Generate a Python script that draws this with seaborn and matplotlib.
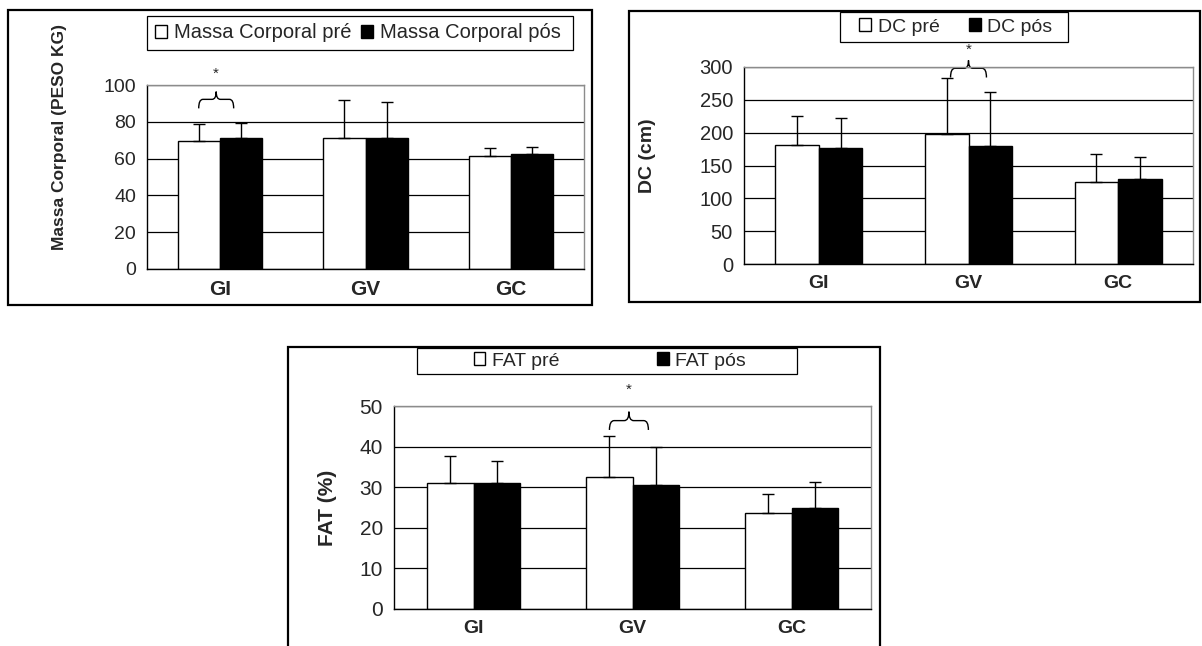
import matplotlib
matplotlib.use("Agg")
import matplotlib.pyplot as plt
import seaborn as sns
import pandas as pd
from matplotlib.patches import Rectangle, Patch, PathPatch
from matplotlib.path import Path

# ---------------- data ----------------
groups = ["GI", "GV", "GC"]
moments = ["pré", "pós"]

massa_pre = [69.3, 71.0, 61.4]
massa_pos = [71.0, 71.0, 62.3]
massa_pre_sd = [9.4, 20.8, 4.1]
massa_pos_sd = [8.6, 19.6, 4.1]

dc_pre = [181, 198.5, 125]
dc_pos = [176, 179, 130]
dc_pre_sd = [45, 85.5, 43]
dc_pos_sd = [46, 83, 33]

fat_pre = [31.0, 32.6, 23.6]
fat_pos = [31.0, 30.6, 25.0]
fat_pre_sd = [6.8, 9.9, 4.8]
fat_pos_sd = [5.5, 9.4, 6.3]

legend_massa = ["Massa Corporal pré", "Massa Corporal pós"]
legend_dc = ["DC pré", "DC pós"]
legend_fat = ["FAT pré", "FAT pós"]

# ---------------- figure ----------------
W, H = 1202, 646
sns.set_style("white")
plt.rcParams["font.family"] = ["Liberation Sans", "DejaVu Sans"]
fig = plt.figure(figsize=(W / 100, H / 100), dpi=100)


def fig_rect(x0, y0, x1, y1):
    return (x0 / W, 1 - y1 / H, (x1 - x0) / W, (y1 - y0) / H)


def add_box(x0, y0, x1, y1, lw):
    r = Rectangle(fig_rect(x0, y0, x1, y1)[:2], (x1 - x0) / W, (y1 - y0) / H,
                  transform=fig.transFigure, fill=False, edgecolor="black",
                  linewidth=lw)
    fig.add_artist(r)


def brace(ax, x0, x1, y0, y1, y2, xs, ys):
    xm = (x0 + x1) / 2
    dx = (x1 - x0) * 0.12
    verts = [(x0, y0), (x0, y1), (x0 + dx, y1), (xm - dx, y1), (xm, y1),
             (xm, y2), (xm, y1), (xm + dx, y1), (x1 - dx, y1), (x1, y1),
             (x1, y0)]
    codes = [Path.MOVETO, Path.CURVE3, Path.CURVE3, Path.LINETO, Path.CURVE3,
             Path.CURVE3, Path.CURVE3, Path.CURVE3, Path.LINETO, Path.CURVE3,
             Path.CURVE3]
    pp = PathPatch(Path(verts, codes), fill=False, edgecolor="black",
                   linewidth=1.0, clip_on=False, transform=ax.transData)
    ax.add_patch(pp)
    ax.text(xs, ys, "*", ha="center", va="center", fontsize=11, clip_on=False)


def panel(ax_px, pre, pos, pre_sd, pos_sd, ymax, ystep, ylabel, ylab_xy,
          ylab_fs, tick_fs, xtick_fs):
    x0, y0, x1, y1 = ax_px
    ax = fig.add_axes(fig_rect(x0, y0, x1, y1))
    df = pd.DataFrame({
        "grupo": groups * 2,
        "momento": [moments[0]] * 3 + [moments[1]] * 3,
        "valor": list(pre) + list(pos),
    })
    sns.barplot(data=df, x="grupo", y="valor", hue="momento",
                order=groups, hue_order=moments,
                palette={"pré": "white", "pós": "black"},
                edgecolor="black", linewidth=1.0, width=0.58,
                errorbar=None, legend=False, ax=ax, saturation=1)
    for cont, sd in zip(ax.containers, [pre_sd, pos_sd]):
        xs = [b.get_x() + b.get_width() / 2 for b in cont]
        hs = [b.get_height() for b in cont]
        ax.errorbar(xs, hs, yerr=[[0] * len(sd), sd], fmt="none",
                    ecolor="black", elinewidth=1.0, capsize=4, capthick=1.0,
                    zorder=3)
    ax.set_xlim(-0.5, 2.5)
    ax.set_ylim(0, ymax)
    ax.set_yticks(range(0, ymax + 1, ystep))
    ax.set_xticks(range(3))
    ax.set_xticklabels(groups, fontsize=xtick_fs, fontweight="bold")
    ax.set_xticks([-0.5, 0.5, 1.5, 2.5], minor=True)
    ax.tick_params(axis="x", which="major", length=0, pad=8)
    ax.tick_params(axis="x", which="minor", length=5, width=1,
                   color="black", direction="out")
    ax.tick_params(axis="y", length=4, width=1, color="black",
                   direction="out", labelsize=tick_fs, pad=4)
    ax.yaxis.grid(True, color="black", linewidth=0.9)
    ax.set_axisbelow(True)
    ax.set_xlabel("")
    ax.set_ylabel(ylabel, fontsize=ylab_fs, fontweight="bold")
    ax.yaxis.set_label_coords(*ylab_xy)
    for s in ["left", "bottom"]:
        ax.spines[s].set_color("black")
        ax.spines[s].set_linewidth(1.0)
    for s in ["top", "right"]:
        ax.spines[s].set_color("#8c8c8c")
        ax.spines[s].set_linewidth(1.0)
        ax.spines[s].set_visible(True)
    return ax


def legend(labels, cx, cy, colspace, fs):
    handles = [Patch(facecolor="white", edgecolor="black", linewidth=1.0,
                     label=labels[0]),
               Patch(facecolor="black", edgecolor="black", linewidth=1.0,
                     label=labels[1])]
    fig.legend(handles=handles, loc="center",
               bbox_to_anchor=(cx / W, 1 - cy / H), ncol=2, frameon=False,
               handlelength=0.6, handleheight=0.6, handletextpad=0.35,
               columnspacing=colspace, fontsize=fs, borderpad=0)


# ---- Panel 1: Massa corporal ----
add_box(8, 10, 592, 305, 1.6)
ax1 = panel((147, 85, 584, 269), massa_pre, massa_pos, massa_pre_sd,
            massa_pos_sd, 100, 20, "Massa Corporal (PESO KG)",
            (-0.183, 0.72), 12.5, 14, 15)
add_box(147, 16, 573, 50, 0.9)
legend(legend_massa, 358, 33, 0.5, 14.5)
brace(ax1, -0.145, 0.095, 87.3, 92.2, 96.4, -0.025, 106)

# ---- Panel 2: DC ----
add_box(629, 11, 1200, 302, 1.6)
ax2 = panel((744, 67, 1193, 264), dc_pre, dc_pos, dc_pre_sd, dc_pos_sd,
            300, 50, "DC (cm)", (-0.196, 0.55), 14, 14.5, 14)
add_box(840, 12, 1068, 42, 0.9)
legend(legend_dc, 956, 27, 1.5, 14)
brace(ax2, 0.88, 1.12, 284, 298, 310, 1.0, 326)

# ---- Panel 3: FAT ----
add_box(288, 347, 880, 660, 1.6)
ax3 = panel((394, 406, 871, 609), fat_pre, fat_pos, fat_pre_sd, fat_pos_sd,
            50, 10, "FAT (%)", (-0.12, 0.5), 15, 15, 14)
add_box(417, 348, 797, 374, 0.9)
legend(legend_fat, 610, 361, 5.0, 14)
brace(ax3, 0.855, 1.1, 44.1, 46.4, 48.6, 0.975, 54)

fig.savefig("out.png", dpi=100)
